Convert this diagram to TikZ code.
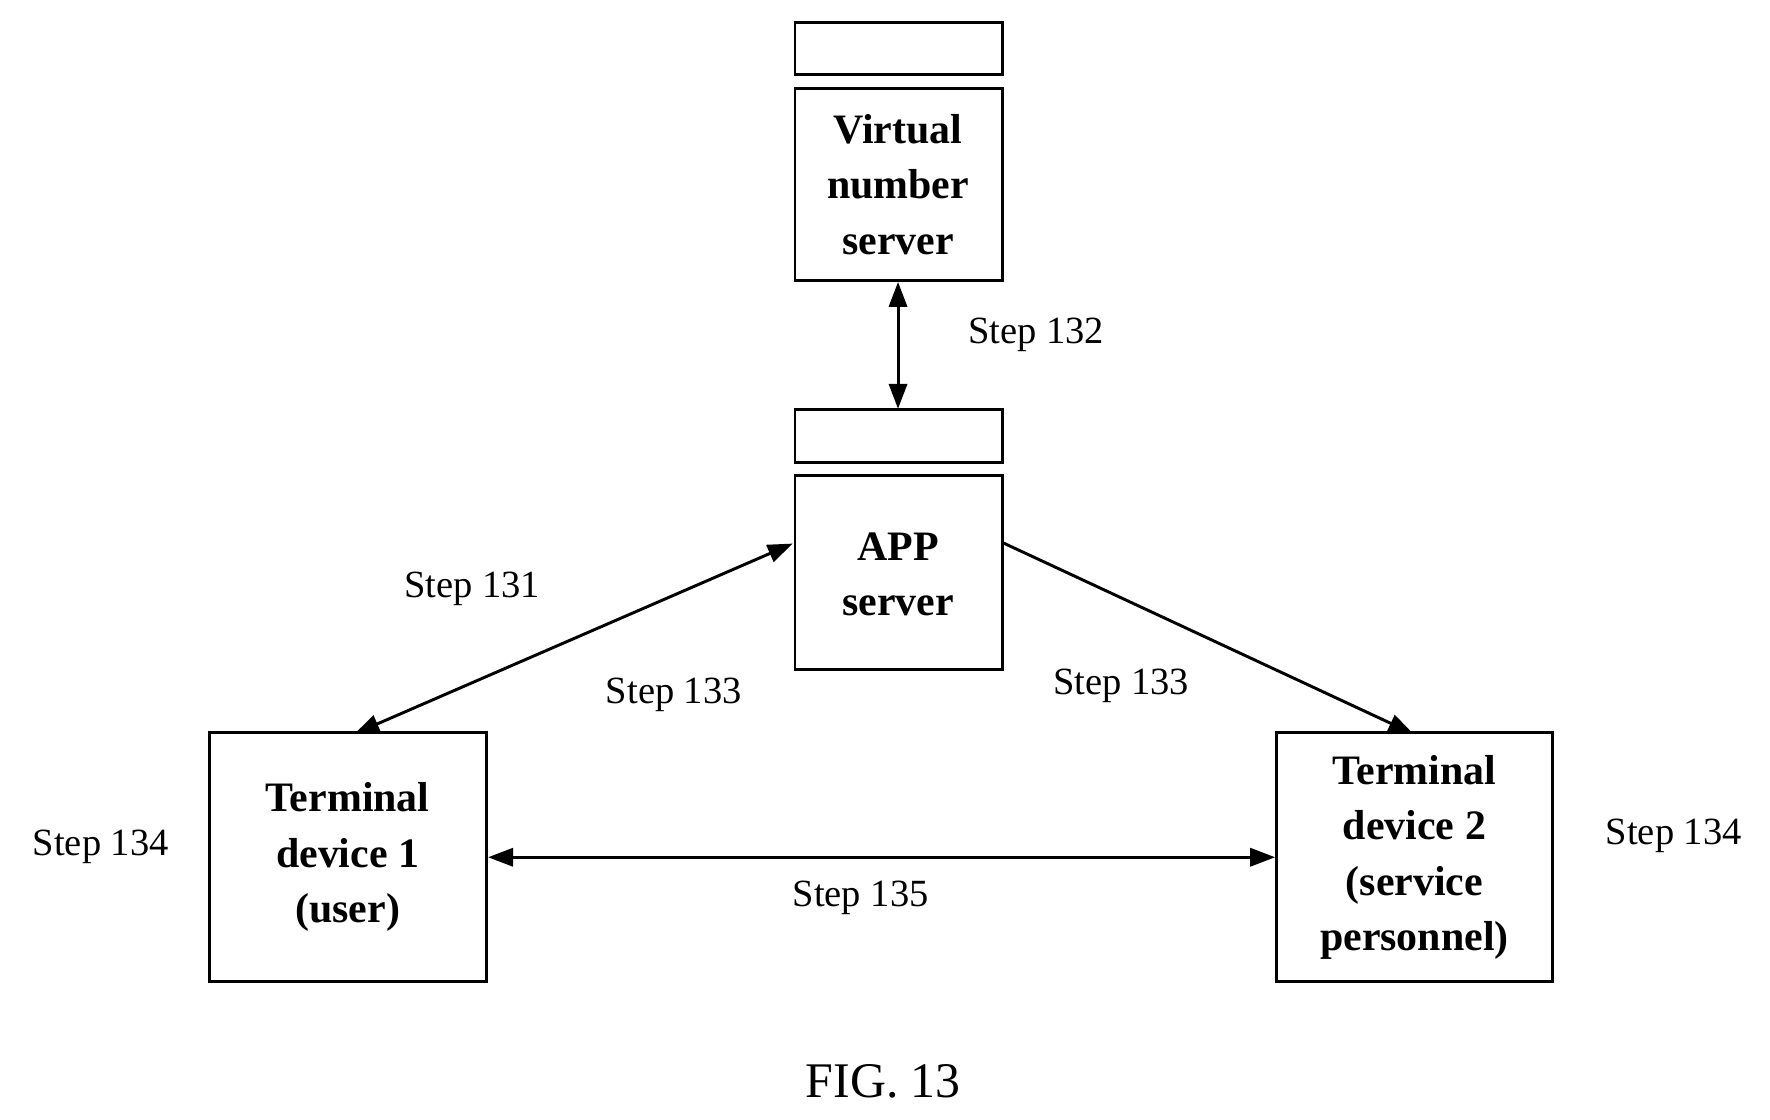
\documentclass[tikz,border=0pt]{standalone}
\usepackage{fontspec}
\setmainfont{Liberation Serif}
\usetikzlibrary{arrows.meta}
\begin{document}
\begin{tikzpicture}[x=0.5pt,y=-0.5pt,
  box/.style={draw,line width=1.3pt},
  lbl/.style={font=\fontsize{17}{20}\selectfont},
  btxt/.style={font=\fontsize{18.5}{24.5}\selectfont\bfseries,align=center},
  arr/.style={line width=1.3pt,-{Triangle[length=11pt,width=8pt]}},
  darr/.style={line width=1.3pt,{Triangle[length=11pt,width=8pt]}-{Triangle[length=11pt,width=8pt]}}]
\useasboundingbox (0,0) rectangle (1563,989);
\draw[box] (702,20) rectangle (885,66);
\draw[box] (702,78) rectangle (885,248);
\node[btxt] (vn) at (793,163) {Virtual\\number\\server};
\coordinate (vnb) at (793,249);
\draw[box] (702,362) rectangle (885,408);
\coordinate (apt) at (793,361);
\draw[box] (702,420) rectangle (885,591);
\node[btxt] (app) at (793,507) {APP\\server};
\draw[box] (185,647) rectangle (430,867);
\node[btxt] (t1) at (307,757) {Terminal\\device 1\\(user)};
\draw[box] (1127,647) rectangle (1371,867);
\node[btxt] (t2) at (1249,757) {Terminal\\device 2\\(service\\personnel)};
\coordinate (a1) at (700,480); \coordinate (b1) at (313,648);
\coordinate (a2) at (885,479); \coordinate (b2) at (1248,648);
\coordinate (c1) at (431,757); \coordinate (c2) at (1126,757);
\draw[darr] (vnb) -- (apt);
\draw[darr] (b1) -- (a1);
\draw[arr] (a2) -- (b2);
\draw[darr] (c1) -- (c2);
\node[lbl] (s132) at (915,296) {Step 132};
\node[lbl] (s131) at (417,520) {Step 131};
\node[lbl] (s133a) at (595,614) {Step 133};
\node[lbl] (s133b) at (990,606) {Step 133};
\node[lbl] (s135) at (760,793) {Step 135};
\node[lbl] (s134a) at (89,748) {Step 134};
\node[lbl] (s134b) at (1478,738) {Step 134};
\node[font=\fontsize{22}{26}\selectfont] (fig) at (780,955) {FIG. 13};
\end{tikzpicture}
\end{document}
